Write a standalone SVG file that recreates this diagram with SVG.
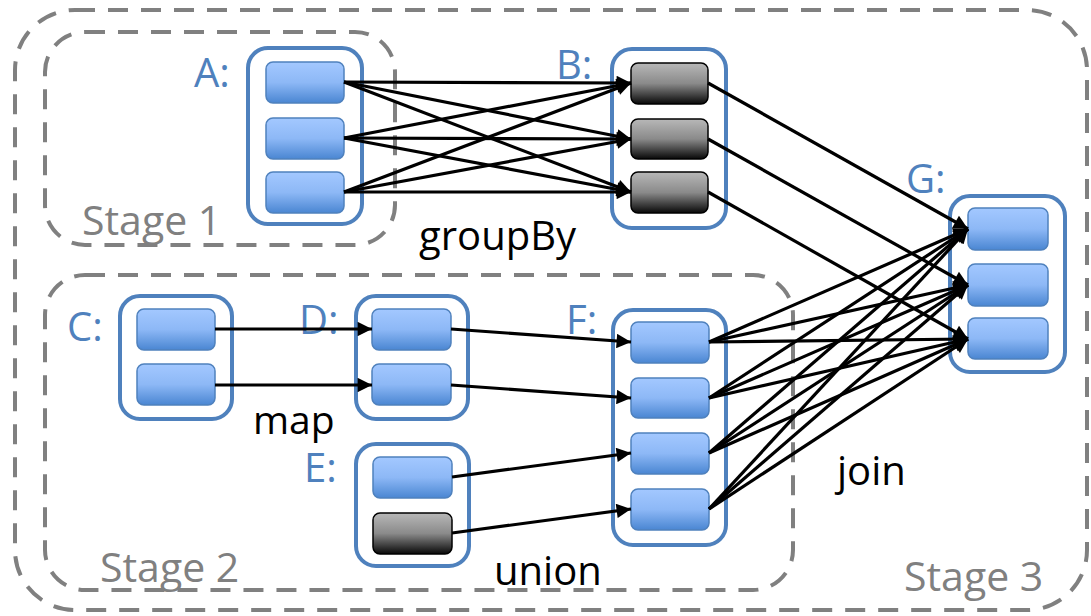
<svg xmlns="http://www.w3.org/2000/svg" width="1091" height="616" viewBox="0 0 1091 616">
<defs>
<linearGradient id="gb" x1="0" y1="0" x2="0" y2="1"><stop offset="0" stop-color="#a3c8ff"/><stop offset="0.5" stop-color="#8db8f6"/><stop offset="1" stop-color="#4a86d2"/></linearGradient>
<linearGradient id="gg" x1="0" y1="0" x2="0" y2="1"><stop offset="0" stop-color="#b8b8b8"/><stop offset="0.5" stop-color="#8a8a8a"/><stop offset="1" stop-color="#080808"/></linearGradient>
<marker id="ah" viewBox="0 0 10 10" refX="10" refY="5" markerWidth="5" markerHeight="4.5" orient="auto" markerUnits="strokeWidth"><path d="M0,0 L10,5 L0,10 z" fill="#000"/></marker>
<style>
.stage{fill:none;stroke:#808080;stroke-width:4;stroke-dasharray:20 13}
.cont{fill:#fff;stroke:#4f81bd;stroke-width:4}
.bi{fill:url(#gb);stroke:#4f81bd;stroke-width:1.5}
.gi{fill:url(#gg);stroke:#000;stroke-width:1.5}
.lbl{font-family:"Open Sans","Liberation Sans",sans-serif;font-size:40px;fill:#4f81bd}
.st{font-family:"Open Sans","Liberation Sans",sans-serif;font-size:41px;fill:#808080}
.op{font-family:"Open Sans","Liberation Sans",sans-serif;font-size:40px;fill:#000}
.c line{stroke:#000;stroke-width:3.2;marker-end:url(#ah)}
</style>
</defs>
<rect width="1091" height="616" fill="#fff"/>
<g id="stage3"><rect class="stage" x="15" y="10" width="1072" height="600" rx="60"/><text class="st" x="904" y="591">Stage 3</text></g>
<g id="stage1"><rect class="stage" x="45" y="32" width="350" height="213" rx="40"/><text class="st" x="82" y="235">Stage 1</text></g>
<g id="stage2"><rect class="stage" x="45" y="275" width="748" height="315" rx="40"/><text class="st" x="100" y="582">Stage 2</text></g>
<g id="A"><rect class="cont" x="248" y="48" width="114" height="176" rx="20"/>
<rect class="bi" x="266" y="62" width="78" height="41" rx="7"/><rect class="bi" x="266" y="118" width="78" height="41" rx="7"/><rect class="bi" x="266" y="172" width="78" height="41" rx="7"/>
<text class="lbl" x="194" y="87">A:</text></g>
<g id="B"><rect class="cont" x="612" y="49" width="114" height="179" rx="20"/>
<rect class="gi" x="631" y="63" width="77" height="41" rx="7"/><rect class="gi" x="631" y="119" width="77" height="40" rx="7"/><rect class="gi" x="631" y="172" width="77" height="41" rx="7"/>
<text class="lbl" x="556" y="79">B:</text></g>
<g id="G"><rect class="cont" x="950" y="196" width="115" height="176" rx="20"/>
<rect class="bi" x="968" y="208" width="80" height="42" rx="7"/><rect class="bi" x="968" y="264" width="80" height="42" rx="7"/><rect class="bi" x="968" y="318" width="80" height="41" rx="7"/>
<text class="lbl" x="906" y="193">G:</text></g>
<g id="C"><rect class="cont" x="120" y="296" width="112" height="123" rx="20"/>
<rect class="bi" x="137" y="309" width="78" height="41" rx="7"/><rect class="bi" x="137" y="364" width="78" height="41" rx="7"/>
<text class="lbl" x="67" y="341">C:</text></g>
<g id="D"><rect class="cont" x="356" y="296" width="112" height="123" rx="20"/>
<rect class="bi" x="372" y="309" width="79" height="41" rx="7"/><rect class="bi" x="372" y="364" width="79" height="41" rx="7"/>
<text class="lbl" x="299" y="334">D:</text></g>
<g id="E"><rect class="cont" x="356" y="444" width="113" height="122" rx="20"/>
<rect class="bi" x="373" y="457" width="79" height="41" rx="7"/><rect class="gi" x="373" y="513" width="79" height="41" rx="7"/>
<text class="lbl" x="304" y="482">E:</text></g>
<g id="F"><rect class="cont" x="613" y="310" width="113" height="235" rx="20"/>
<rect class="bi" x="631" y="322" width="78" height="41" rx="7"/><rect class="bi" x="631" y="378" width="78" height="40" rx="7"/><rect class="bi" x="631" y="433" width="78" height="41" rx="7"/><rect class="bi" x="631" y="489" width="78" height="41" rx="7"/>
<text class="lbl" x="566" y="334">F:</text></g>
<g id="labels">
<text class="op" x="419" y="250">groupBy</text>
<text class="op" x="253" y="434" style="font-size:39px">map</text>
<text class="op" x="837" y="485">join</text>
<text class="op" x="494" y="585">union</text>
</g>
<g id="connectors" class="c">
<line x1="344" y1="82" x2="631" y2="83"/><line x1="344" y1="82" x2="631" y2="139"/><line x1="344" y1="82" x2="631" y2="192"/>
<line x1="344" y1="138" x2="631" y2="83"/><line x1="344" y1="138" x2="631" y2="139"/><line x1="344" y1="138" x2="631" y2="192"/>
<line x1="344" y1="192" x2="631" y2="83"/><line x1="344" y1="192" x2="631" y2="139"/><line x1="344" y1="192" x2="631" y2="192"/>
<line x1="708" y1="83" x2="968" y2="229"/><line x1="708" y1="139" x2="968" y2="285"/><line x1="708" y1="192" x2="968" y2="339"/>
<line x1="709" y1="342" x2="968" y2="229"/><line x1="709" y1="342" x2="968" y2="285"/><line x1="709" y1="342" x2="968" y2="339"/>
<line x1="709" y1="398" x2="968" y2="229"/><line x1="709" y1="398" x2="968" y2="285"/><line x1="709" y1="398" x2="968" y2="339"/>
<line x1="709" y1="453" x2="968" y2="229"/><line x1="709" y1="453" x2="968" y2="285"/><line x1="709" y1="453" x2="968" y2="339"/>
<line x1="709" y1="509" x2="968" y2="229"/><line x1="709" y1="509" x2="968" y2="285"/><line x1="709" y1="509" x2="968" y2="339"/>
<line x1="215" y1="329" x2="372" y2="329"/><line x1="215" y1="385" x2="372" y2="385"/>
<line x1="451" y1="329" x2="631" y2="342"/><line x1="451" y1="385" x2="631" y2="398"/>
<line x1="452" y1="477" x2="631" y2="453"/><line x1="452" y1="533" x2="631" y2="509"/>
</g>
</svg>
